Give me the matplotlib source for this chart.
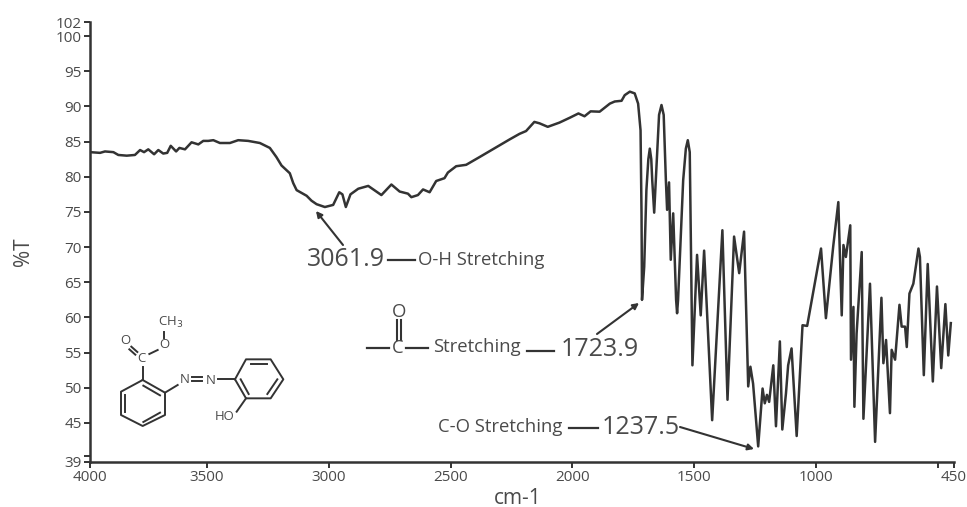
import numpy as np
import matplotlib
matplotlib.use("Agg")
import matplotlib.pyplot as plt

plt.rcParams["font.family"] = ["Open Sans", "DejaVu Sans"]

LINE = "#333333"
TEXT = "#4a4a4a"

wavenumber = [
    4000, 3957, 3936, 3900, 3879, 3843, 3808, 3786, 3769, 3751, 3726, 3708, 3687, 3670, 3655,
    3632, 3618, 3594, 3566, 3537, 3516, 3495, 3474, 3447, 3406, 3372, 3331, 3283, 3242, 3215,
    3194, 3160, 3146, 3132, 3091, 3071, 3050, 3016, 2982, 2957, 2944, 2930, 2911, 2879, 2838,
    2784, 2743, 2709, 2675, 2661, 2634, 2613, 2586, 2559, 2525, 2511, 2477, 2436, 2381, 2327,
    2258, 2217, 2190, 2156, 2135, 2101, 2053, 2010, 1975, 1950, 1925, 1888, 1846, 1826, 1798,
    1785, 1764, 1744, 1730, 1720, 1716, 1714, 1705, 1696, 1688, 1682, 1676, 1672, 1664, 1652, 1644, 1634, 1625,
    1616, 1611, 1603, 1596, 1586, 1574, 1570, 1566, 1545, 1534, 1526, 1518, 1507, 1488, 1473, 1459, 1426, 1384,
    1363, 1336, 1315, 1295, 1278, 1269, 1258, 1237, 1219, 1210, 1201, 1192, 1175, 1164, 1148,
    1138, 1123, 1114, 1100, 1079, 1055, 1036, 979, 959, 929, 908, 894, 887, 877, 859,
    856, 846, 842, 833, 812, 805, 778, 757, 731, 723, 712, 696, 689, 675, 657,
    648, 634, 627, 616, 600, 579, 573, 557, 541, 520, 503, 489, 476, 467, 459,
]
transmittance = [
    83.5, 83.4, 83.6, 83.5, 83.1, 83.0, 83.1, 83.8, 83.5, 83.9, 83.2, 83.8, 83.3, 83.4, 84.4,
    83.6, 84.1, 83.9, 84.9, 84.6, 85.1, 85.1, 85.2, 84.8, 84.8, 85.2, 85.1, 84.8, 84.1, 82.8,
    81.6, 80.5, 79.1, 78.1, 77.3, 76.6, 76.1, 75.7, 76.0, 77.8, 77.5, 75.7, 77.5, 78.3, 78.7,
    77.4, 78.9, 77.9, 77.6, 77.1, 77.4, 78.2, 77.8, 79.4, 79.8, 80.6, 81.5, 81.7, 82.8, 83.9,
    85.3, 86.1, 86.5, 87.8, 87.6, 87.1, 87.7, 88.4, 89.0, 88.6, 89.3, 89.25, 90.4, 90.7, 90.8,
    91.6, 92.1, 91.85, 90.4, 86.6, 74.8, 62.5, 67.2, 78.1, 82.5, 84.0, 82.5, 79.5, 74.9, 83.3, 88.8, 90.2, 88.8,
    79.5, 75.3, 79.2, 68.2, 74.8, 62.5, 60.6, 62.5, 79.5, 84.0, 85.2, 83.5, 53.2, 68.9, 60.3, 69.5, 45.4, 72.4,
    48.3, 71.5, 66.3, 72.2, 50.2, 53.0, 50.6, 41.4, 49.9, 47.8, 49.0, 48.0, 53.2, 44.5, 56.6,
    44.0, 49.2, 53.2, 55.6, 43.0, 58.9, 58.8, 69.8, 59.9, 70.1, 76.4, 60.3, 70.3, 68.6, 73.1,
    54.0, 61.5, 47.3, 57.7, 69.3, 45.6, 64.8, 42.1, 62.8, 53.5, 56.8, 46.4, 55.4, 54.0, 61.8,
    58.7, 58.7, 55.8, 63.4, 64.8, 69.8, 68.6, 51.8, 67.6, 50.9, 64.4, 52.8, 61.9, 54.6, 59.2,
]

x_ticks = [4000, 3500, 3000, 2500, 2000, 1500, 1000, 500, 450]
x_labels = ["4000", "3500", "3000", "2500", "2000", "1500", "1000", "", "450"]
y_ticks = [102, 100, 95, 90, 85, 80, 75, 70, 65, 60, 55, 50, 45, 40, 39]
y_labels = ["102", "100", "95", "90", "85", "80", "75", "70", "65", "60", "55", "50", "45", "", "39"]

# the printed axes are not quite linear at their ends
X_KNOTS = [450, 500, 3500, 4000]
X_POS = [0.0, 16.0, 746.7, 863.7]
Y_KNOTS = [39, 40, 45, 102]
Y_POS = [0.0, 6.0, 38.5, 439.5]


def mol(pts):
    # molecule sketch, coordinates measured on a 3x crop
    return [60 + p[0] / 3 for p in pts], [290 + p[1] / 3 for p in pts]


def main():
    fig = plt.figure(figsize=(9.67, 5.07), dpi=100)
    ax = fig.add_axes([90 / 967, 1 - 461.5 / 507, 863.7 / 967, 439.5 / 507])

    ax.set_xscale("function", functions=(lambda v: np.interp(v, X_KNOTS, X_POS),
                                         lambda v: np.interp(v, X_POS, X_KNOTS)))
    ax.set_yscale("function", functions=(lambda v: np.interp(v, Y_KNOTS, Y_POS),
                                         lambda v: np.interp(v, Y_POS, Y_KNOTS)))

    ax.plot(wavenumber, transmittance, color=LINE, lw=1.8)

    ax.set_xlim(4000, 450)
    ax.set_ylim(39, 102)
    ax.set_xticks(x_ticks)
    ax.set_xticklabels(x_labels)
    ax.set_yticks(y_ticks)
    ax.set_yticklabels(y_labels)
    ax.minorticks_off()
    ax.tick_params(axis="both", length=4.5, width=1.4, color=LINE, labelcolor=TEXT,
                   labelsize=11, pad=1.5)
    ax.spines["top"].set_visible(False)
    ax.spines["right"].set_visible(False)
    for side in ["left", "bottom"]:
        ax.spines[side].set_linewidth(1.8)
        ax.spines[side].set_color(LINE)

    # ── overlay in image pixels for the callouts and the molecule ──
    ov = fig.add_axes([0, 0, 1, 1])
    ov.set_xlim(0, 967)
    ov.set_ylim(507, 0)
    ov.axis("off")
    ov.patch.set_alpha(0)

    ov.text(24, 252, "%T", rotation=90, ha="center", va="center", fontsize=15, color=TEXT)
    ov.text(518, 498, "cm-1", ha="center", va="center", fontsize=15, color=TEXT)

    arrow = dict(arrowstyle="-|>,head_length=0.35,head_width=0.18", color=LINE, lw=1.5,
                 shrinkA=0, shrinkB=0)
    ov.annotate("", xy=(316, 211), xytext=(343, 245), arrowprops=arrow)
    ov.annotate("", xy=(639, 303), xytext=(597, 334), arrowprops=arrow)
    ov.annotate("", xy=(754, 449), xytext=(680, 427), arrowprops=arrow)

    for x0, x1, y in [(388, 415, 260), (527, 554, 350.5), (406, 428, 347.5),
                      (367, 389, 347.5), (569, 598, 428)]:
        ov.plot([x0, x1], [y, y], color=LINE, lw=1.6)
    ov.plot([396.5, 396.5], [320, 340], color=LINE, lw=1.5)
    ov.plot([400.5, 400.5], [320, 340], color=LINE, lw=1.5)

    big = dict(ha="center", va="center", fontsize=18, color=TEXT)
    small = dict(ha="center", va="center", fontsize=13.3, color=TEXT)
    ov.text(346.5, 260, "3061.9", **big)
    ov.text(599.5, 349, "1723.9", **big)
    ov.text(640.5, 428, "1237.5", **big)
    ov.text(481.5, 260, "O-H Stretching", **small)
    ov.text(476.5, 347.5, "Stretching", **small)
    ov.text(500.5, 427, "C-O Stretching", **small)
    ov.text(398, 348, "C", **small)
    ov.text(399, 312, "O", **small)

    # molecule
    bonds = [
        [(248, 270), (315, 308), (315, 375), (248, 408), (183, 375), (183, 305), (248, 270)],
        [(250, 287), (300, 316)], [(300, 368), (250, 396)], [(196, 365), (196, 315)],
        [(248, 270), (248, 232)],
        [(232, 186), (214, 170)], [(226, 194), (208, 178)],
        [(268, 192), (293, 180)], [(313, 145), (313, 125)],
        [(315, 308), (353, 285)],
        [(395, 262), (425, 262)], [(395, 272), (425, 272)],
        [(475, 268), (525, 268)],
        [(525, 268), (558, 208), (632, 208), (670, 268), (632, 325), (558, 325), (525, 268)],
        [(572, 222), (620, 222)], [(652, 268), (622, 312)], [(542, 268), (566, 312)],
        [(558, 325), (530, 365)],
    ]
    for b in bonds:
        xs, ys = mol(b)
        ov.plot(xs, ys, color=LINE, lw=1.4)

    atoms = dict(ha="center", va="center", fontsize=9.5, color=TEXT)
    for label, p in [("O", (195, 152)), ("C", (243, 205)), ("O", (313, 165)),
                     ("CH$_3$", (332, 97)), ("N", (373, 268)), ("N", (452, 270)),
                     ("HO", (495, 378))]:
        xs, ys = mol([p])
        ov.text(xs[0], ys[0], label, **atoms)

    fig.savefig("out.png", dpi=100)


if __name__ == "__main__":
    main()
